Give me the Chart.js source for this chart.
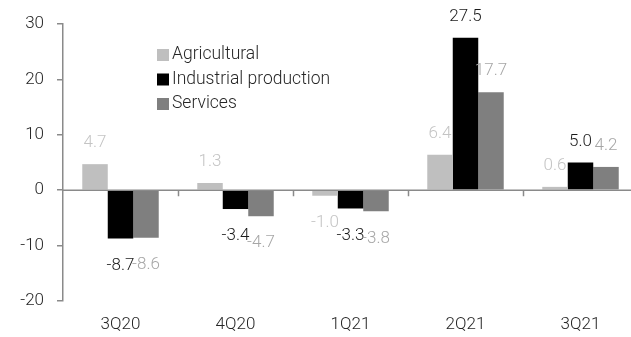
<!DOCTYPE html>
<html lang="en">
<head>
  <meta charset="UTF-8">
  <title>Growth by sector</title>
  <script src="https://cdn.jsdelivr.net/npm/chart.js"></script>
  <style>
    html, body { margin: 0; padding: 0; background: #fff; overflow: hidden; }
    /* plot is a bit wider than the window, the last category gets cut like in the source */
    #wrap { width: 638px; height: 337px; position: relative; }
  </style>
</head>
<body>
  <div id="wrap"><canvas id="chart"></canvas></div>

  <script>
    // data
    const quarters = ['3Q20', '4Q20', '1Q21', '2Q21', '3Q21'];
    const agricultural = [4.7, 1.3, -1.0, 6.4, 0.6];
    const industrial = [-8.7, -3.4, -3.3, 27.5, 5.0];
    const services = [-8.6, -4.7, -3.8, 17.7, 4.2];
    const yTicks = [-20, -10, 0, 10, 20, 30];

    const FONT = 'Roboto, "Liberation Sans", sans-serif';
    const AXIS = '#8a8a8a';

    // bar value labels, centred on each bar, above or below the end
    const valueLabels = {
      id: 'valueLabels',
      afterDatasetsDraw(chart) {
        const ctx = chart.ctx;
        ctx.save();
        ctx.font = '300 17px ' + FONT;
        ctx.textAlign = 'center';
        ctx.textBaseline = 'middle';
        chart.data.datasets.forEach((ds, i) => {
          const meta = chart.getDatasetMeta(i);
          ctx.fillStyle = ds.labelColor;
          meta.data.forEach((bar, j) => {
            const v = ds.data[j];
            const y = v >= 0 ? bar.y - 21 : bar.y + 27;
            ctx.fillText(v.toFixed(1), bar.x, y);
          });
        });
        ctx.restore();
      }
    };

    // zero line with small ticks between the quarters
    const zeroAxis = {
      id: 'zeroAxis',
      afterDatasetsDraw(chart) {
        const { ctx, chartArea, scales } = chart;
        const y0 = scales.y.getPixelForValue(0);
        const step = (chartArea.right - chartArea.left) / quarters.length;
        ctx.save();
        ctx.strokeStyle = AXIS;
        ctx.lineWidth = 1.5;
        ctx.beginPath();
        ctx.moveTo(chartArea.left, y0);
        ctx.lineTo(chartArea.right, y0);
        for (let i = 1; i <= quarters.length; i++) {
          const x = Math.round(chartArea.left + i * step) + 0.5;
          ctx.moveTo(x, y0);
          ctx.lineTo(x, y0 + 6);
        }
        ctx.stroke();
        ctx.restore();
      }
    };

    // vertical legend in the upper left
    const sideLegend = {
      id: 'sideLegend',
      afterDraw(chart) {
        const ctx = chart.ctx;
        const x = chart.chartArea.left + 94;
        ctx.save();
        ctx.font = '300 17.5px ' + FONT;
        ctx.textBaseline = 'middle';
        chart.data.datasets.forEach((ds, i) => {
          const cy = 55 + i * 24.5;
          ctx.fillStyle = ds.backgroundColor;
          ctx.fillRect(x, cy - 6, 12, 12);
          ctx.fillStyle = '#262626';
          ctx.fillText(ds.label, x + 15, cy);
        });
        ctx.restore();
      }
    };

    new Chart(document.getElementById('chart'), {
      type: 'bar',
      data: {
        labels: quarters,
        datasets: [
          { label: 'Agricultural', data: agricultural, backgroundColor: '#bfbfbf', labelColor: '#c4c4c4' },
          { label: 'Industrial production', data: industrial, backgroundColor: '#000000', labelColor: '#1a1a1a' },
          { label: 'Services', data: services, backgroundColor: '#7f7f7f', labelColor: '#a6a6a6' }
        ]
      },
      options: {
        responsive: true,
        maintainAspectRatio: false,
        animation: false,
        layout: { padding: { top: 24, right: 0, left: 0, bottom: 0 } },
        datasets: {
          bar: { categoryPercentage: 0.665, barPercentage: 1.0 }
        },
        plugins: {
          legend: { display: false },
          tooltip: { enabled: false }
        },
        scales: {
          x: {
            grid: { display: false, drawTicks: false },
            border: { display: false },
            ticks: { color: '#262626', font: { family: FONT, size: 17, weight: 300 }, padding: 14 },
            afterFit(scale) { scale.height = 36; }
          },
          y: {
            min: -20,
            max: 30,
            afterBuildTicks(scale) { scale.ticks = yTicks.map(v => ({ value: v })); },
            grid: { drawOnChartArea: false, drawTicks: true, tickLength: 6, color: AXIS, lineWidth: 1.5 },
            border: { display: true, color: AXIS, width: 1.5 },
            ticks: { color: '#262626', font: { family: FONT, size: 17, weight: 300 }, padding: 13 },
            afterFit(scale) { scale.width = 63; }
          }
        }
      },
      plugins: [valueLabels, zeroAxis, sideLegend]
    });
  </script>
</body>
</html>
